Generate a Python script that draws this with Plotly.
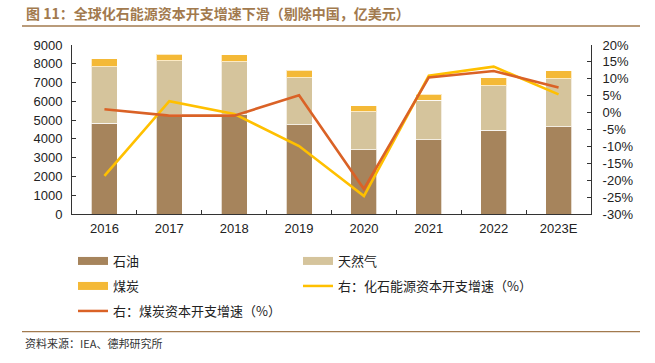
import plotly.graph_objects as go

years = ["2016", "2017", "2018", "2019", "2020", "2021", "2022", "2023E"]
oil = [4840, 5320, 5300, 4740, 3420, 3960, 4450, 4650]
gas = [3010, 2830, 2800, 2510, 2020, 2090, 2390, 2550]
coal = [410, 370, 370, 410, 320, 340, 410, 430]
fossil_growth = [-18.7, 3.4, -0.4, -9.9, -24.7, 10.9, 13.6, 5.4]
coal_growth = [1.0, -0.9, -0.9, 5.1, -22.6, 10.4, 12.3, 7.4]

left_ticks = [0, 1000, 2000, 3000, 4000, 5000, 6000, 7000, 8000, 9000]
right_ticks = [-30, -25, -20, -15, -10, -5, 0, 5, 10, 15, 20]
right_text = ["-30%", "-25%", "-20%", "-15%", "-10%", "-5%", "0%", "5%", "10%", "15%", "20%"]

names = ["石油", "天然气", "煤炭", "右：化石能源资本开支增速（%）", "右：煤炭资本开支增速（%）"]
c_oil, c_gas, c_coal = "#A6845C", "#D5C49C", "#F4B937"
c_yel, c_org = "#FFC000", "#DA6226"

W, H = 655, 363
fig = go.Figure()
for vals, col in [(oil, c_oil), (gas, c_gas), (coal, c_coal)]:
    fig.add_trace(go.Bar(x=years, y=vals, marker=dict(color=col, line=dict(color="rgba(255,255,255,0.7)", width=1)),
                         showlegend=False, yaxis="y"))
fig.add_trace(go.Scatter(x=years, y=fossil_growth, mode="lines", line=dict(color=c_yel, width=2.6),
                         yaxis="y2", showlegend=False))
fig.add_trace(go.Scatter(x=years, y=coal_growth, mode="lines", line=dict(color=c_org, width=2.6),
                         yaxis="y2", showlegend=False))

# legend entries (one legend each, placed like the reference)
leg_specs = [
    (names[0], c_oil, 8, "legend", 73, 261),
    (names[1], c_gas, 8, "legend2", 298, 261),
    (names[2], c_coal, 8, "legend3", 73, 286),
    (names[3], c_yel, 2.5, "legend4", 298, 286),
    (names[4], c_org, 2.5, "legend5", 73, 311),
]
legfont = dict(family="Noto Sans CJK SC", size=13, color="#222")
layout_legends = {}
for nm, col, lw, lg, px, py in leg_specs:
    fig.add_trace(go.Scatter(x=[None], y=[None], mode="lines", name=nm, line=dict(color=col, width=lw),
                             legend=lg, yaxis="y"))
    layout_legends[lg] = dict(xref="container", yref="container", x=px / W, y=1 - py / H,
                              xanchor="left", yanchor="middle", orientation="h",
                              font=legfont, bgcolor="rgba(0,0,0,0)", itemwidth=30)

axis_font = dict(family="Liberation Sans, Arial", size=13, color="#222")
fig.update_layout(
    width=W, height=H,
    margin=dict(l=72, r=64, t=45, b=148.5, autoexpand=False),
    paper_bgcolor="white", plot_bgcolor="white",
    barmode="stack", bargap=0.6,
    showlegend=True,
    xaxis=dict(type="category", showline=True, linecolor="#333", linewidth=1, ticks="inside",
               tickson="boundaries", ticklen=4, tickcolor="#333", tickfont=axis_font,
               showgrid=False, ticklabelstandoff=2),
    yaxis=dict(range=[0, 9000], tickvals=left_ticks, showline=True, linecolor="#333", linewidth=1,
               ticks="inside", ticklen=4, tickcolor="#333", tickfont=axis_font, showgrid=False,
               zeroline=False, ticklabelstandoff=6),
    yaxis2=dict(range=[-30, 20], tickvals=right_ticks, ticktext=right_text, overlaying="y", side="right",
                showline=True, linecolor="#333", linewidth=1, ticks="inside", ticklen=4, tickcolor="#333",
                tickfont=axis_font, showgrid=False, zeroline=False, ticklabelstandoff=8),
    **layout_legends,
)

title_color = "#A27A4E"
fig.add_annotation(xref="paper", yref="paper", x=(24 - 72) / (W - 72 - 64), y=1 + (45 - 13) / (H - 45 - 148.5),
                   xanchor="left", yanchor="middle", showarrow=False,
                   text="<b>图 11：全球化石能源资本开支增速下滑（剔除中国，亿美元）</b>",
                   font=dict(family="Noto Sans CJK SC", size=14, color=title_color))
fig.add_annotation(xref="paper", yref="paper", x=(23 - 72) / (W - 72 - 64), y=1 - (344 - 45) / (H - 45 - 148.5),
                   xanchor="left", yanchor="middle", showarrow=False,
                   text="资料来源：IEA、德邦研究所",
                   font=dict(family="Noto Sans CJK SC", size=11, color="#333"))
fig.add_shape(type="line", xref="paper", yref="paper",
              x0=(22 - 72) / (W - 72 - 64), x1=(640 - 72) / (W - 72 - 64),
              y0=1 + (45 - 26) / (H - 45 - 148.5), y1=1 + (45 - 26) / (H - 45 - 148.5),
              line=dict(color=title_color, width=1.5))
fig.add_shape(type="line", xref="paper", yref="paper",
              x0=(22 - 72) / (W - 72 - 64), x1=(640 - 72) / (W - 72 - 64),
              y0=1 - (332.5 - 45) / (H - 45 - 148.5), y1=1 - (332.5 - 45) / (H - 45 - 148.5),
              line=dict(color=title_color, width=1.2))

fig.write_html("out.html", config={"displayModeBar": False},
               post_script="document.body.style.margin='0';")
